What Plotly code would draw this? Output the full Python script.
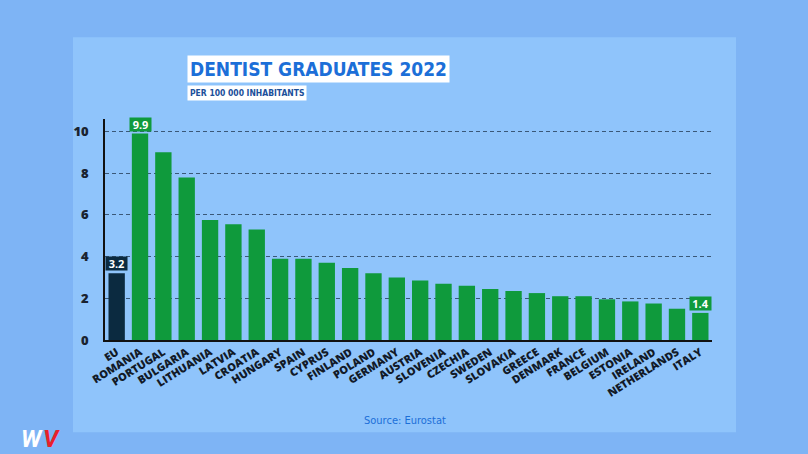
import plotly.graph_objects as go

# data (per 100 000 inhabitants, 2022)
countries = ["EU", "ROMANIA", "PORTUGAL", "BULGARIA", "LITHUANIA", "LATVIA", "CROATIA",
             "HUNGARY", "SPAIN", "CYPRUS", "FINLAND", "POLAND", "GERMANY", "AUSTRIA",
             "SLOVENIA", "CZECHIA", "SWEDEN", "SLOVAKIA", "GREECE", "DENMARK", "FRANCE",
             "BELGIUM", "ESTONIA", "IRELAND", "NETHERLANDS", "ITALY"]
values = [3.2, 9.9, 9.0, 7.8, 5.75, 5.55, 5.3, 3.9, 3.9, 3.7, 3.45, 3.2, 3.0, 2.85,
          2.7, 2.6, 2.45, 2.35, 2.25, 2.1, 2.1, 1.95, 1.85, 1.75, 1.5, 1.3]
highlight = ["EU", "ROMANIA", "ITALY"]
highlight_text = ["3.2", "9.9", "1.4"]
y_ticks = [0, 2, 4, 6, 8, 10]

GREEN = "#0f9a3c"
NAVY = "#0b2a40"
PANEL = "#8fc4fb"
OUTER = "#7eb4f5"
TITLE_BLUE = "#1c6fd8"
COND = "DejaVu Sans Condensed, Roboto, sans-serif"

colors = [NAVY if c == "EU" else GREEN for c in countries]

fig = go.Figure(go.Bar(
    x=countries, y=values,
    marker=dict(color=colors, line=dict(width=0)),
    hoverinfo="x+y"
))

# value boxes above highlighted bars
for c, t in zip(highlight, highlight_text):
    i = countries.index(c)
    fig.add_annotation(
        x=c, y=values[i], yshift=2, text=f"<b>{t}</b>", showarrow=False,
        yanchor="bottom", font=dict(family="Open Sans", size=11, color="white"),
        bgcolor=NAVY if c == "EU" else GREEN, borderpad=0, width=21, height=13
    )

# panel behind the chart (plot area is 607 x 220.5 px)
PW, PH = 607, 220.5
fig.add_shape(type="rect", xref="paper", yref="paper", layer="below",
              x0=-32 / PW, x1=631 / PW, y0=-92 / PH, y1=302 / PH,
              fillcolor=PANEL, line=dict(width=0))

# title and subtitle
fig.add_annotation(
    xref="paper", yref="paper", x=82 / PW, y=270 / PH, xanchor="left", yanchor="middle",
    text="<b>DENTIST GRADUATES 2022</b>", showarrow=False,
    font=dict(family=COND, size=19, color=TITLE_BLUE), bgcolor="white", borderpad=2
)
fig.add_annotation(
    xref="paper", yref="paper", x=82 / PW, y=246 / PH, xanchor="left", yanchor="middle",
    text="<b>PER 100 000 INHABITANTS</b>", showarrow=False,
    font=dict(family=COND, size=8.5, color="#1b4f9a"), bgcolor="white", borderpad=2
)
fig.add_annotation(
    xref="paper", yref="paper", x=300 / PW, y=-80 / PH, xanchor="center", yanchor="middle",
    text="Source: Eurostat", showarrow=False,
    font=dict(family=COND, size=11, color=TITLE_BLUE)
)

# logo
fig.add_annotation(
    xref="paper", yref="paper", x=-60 / PW, y=-99 / PH, xanchor="right", yanchor="middle",
    text="<b><i>W</i></b>", showarrow=False,
    font=dict(family="Roboto", size=24, color="white")
)
fig.add_annotation(
    xref="paper", yref="paper", x=-64 / PW, y=-99 / PH, xanchor="left", yanchor="middle",
    text="<b><i>V</i></b>", showarrow=False,
    font=dict(family="Roboto", size=24, color="#e8202a")
)

fig.update_layout(
    width=808, height=454,
    margin=dict(l=105, r=96, t=119, b=114),
    paper_bgcolor=OUTER, plot_bgcolor="rgba(0,0,0,0)",
    bargap=0.3, showlegend=False,
    font=dict(family="Open Sans", color="#111"),
    xaxis=dict(
        tickangle=-32, tickfont=dict(family="Open Sans", size=11, color="#121a28", weight=800),
        showgrid=False, showline=True, linecolor="#111", linewidth=1.5,
        ticks="", fixedrange=True, automargin=False
    ),
    yaxis=dict(
        range=[0, 10.6], tickvals=y_ticks, ticks="",
        tickfont=dict(family="Open Sans", size=13, color="#1a2330", weight=800),
        showgrid=True, gridcolor="#3a5878", griddash="4px,3px", gridwidth=1,
        showline=True, linecolor="#111", linewidth=1.5,
        zeroline=False, ticklabelstandoff=12, automargin=False
    ),
)

fig.write_html("out.html", config={"displayModeBar": False},
               post_script="document.body.style.margin='0';")
